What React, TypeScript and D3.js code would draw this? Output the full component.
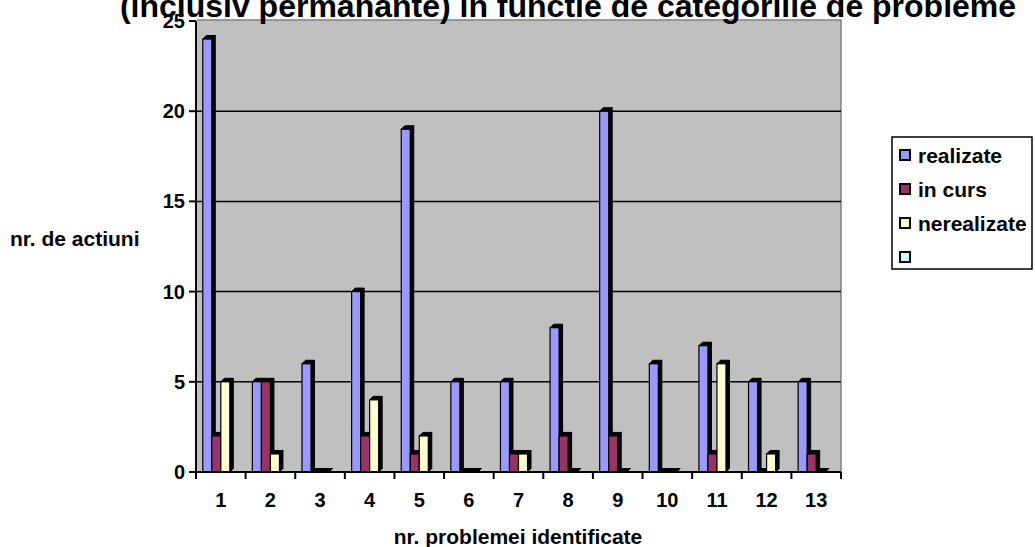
import React from 'react';
import { scaleBand, scaleLinear, range } from 'd3';

const categories = ['1', '2', '3', '4', '5', '6', '7', '8', '9', '10', '11', '12', '13'];
const realizate = [24, 5, 6, 10, 19, 5, 5, 8, 20, 6, 7, 5, 5];
const inCurs = [2, 5, 0, 2, 1, 0, 1, 2, 2, 0, 1, 0, 1];
const nerealizate = [5, 1, 0, 4, 2, 0, 1, 0, 0, 0, 6, 1, 0];
const fourth: (number | null)[] = [null, null, null, null, null, null, null, null, null, null, null, null, null];
const seriesNames = ['realizate', 'in curs', 'nerealizate', ''];
const seriesColors = ['#9999FF', '#993366', '#FFFFCC', '#CCFFFF'];
const yTicks = [0, 5, 10, 15, 20, 25];

const W = 1035;
const H = 547;
const font = '"Liberation Sans", Arial, sans-serif';

const App: React.FC = () => {
  const left = 196;
  const right = 841;
  const top = 21;
  const bottom = 472;
  const depth = 3.5;

  const series = [realizate, inCurs, nerealizate, fourth];

  // scales
  const x = scaleBand<string>().domain(categories).range([left, right]);
  const inner = scaleBand<number>()
    .domain(range(series.length))
    .range([0, x.bandwidth()])
    .paddingOuter(0.75)
    .paddingInner(0);
  const y = scaleLinear().domain([0, 25]).range([bottom, top]);

  const bw = inner.bandwidth();

  return (
    <div style={{ position: 'absolute', left: 0, top: 0 }}>
      <svg width={W} height={H} style={{ display: 'block', fontFamily: font }}>
        <rect width={W} height={H} fill="#fff" />

        {/* plot wall */}
        <rect x={left + 1} y={top - 1} width={right - left - 1} height={bottom - top + 1} fill="#C0C0C0" />
        <path
          d={`M${left + 1},${top - 1}H${right}V${bottom}`}
          fill="none"
          stroke="#808080"
          strokeWidth={1.5}
        />

        {/* gridlines */}
        {yTicks
          .filter((t) => t > 0 && t < 25)
          .map((t) => (
            <line key={t} x1={left} x2={right} y1={y(t)} y2={y(t)} stroke="#000" strokeWidth={1.5} />
          ))}

        {/* bars */}
        {categories.map((c, i) =>
          series.map((s, k) => {
            const v = s[i];
            if (v === null || v === undefined) return null;
            const bx = (x(c) as number) + (inner(k) as number);
            const by = y(v);
            const y0 = y(0);
            return (
              <g key={`${c}-${k}`}>
                <polygon
                  points={`${bx + bw},${by} ${bx + bw + depth},${by - depth} ${bx + bw + depth},${y0 - depth} ${bx + bw},${y0}`}
                  fill="#000"
                  stroke="#000"
                  strokeWidth={1}
                />
                <polygon
                  points={`${bx},${by} ${bx + depth},${by - depth} ${bx + bw + depth},${by - depth} ${bx + bw},${by}`}
                  fill="#000"
                  stroke="#000"
                  strokeWidth={1}
                />
                <rect
                  x={bx}
                  y={by}
                  width={bw}
                  height={y0 - by}
                  fill={seriesColors[k]}
                  stroke="#000"
                  strokeWidth={1.2}
                />
              </g>
            );
          }),
        )}

        {/* y axis */}
        <line x1={left} x2={left} y1={top} y2={bottom} stroke="#000" strokeWidth={2} />
        {yTicks.map((t) => (
          <g key={t}>
            <line x1={left - 7} x2={left} y1={y(t)} y2={y(t)} stroke="#000" strokeWidth={2} />
            <text
              x={left - 11}
              y={y(t)}
              textAnchor="end"
              dominantBaseline="central"
              fontSize={20}
              fontWeight="bold"
            >
              {t}
            </text>
          </g>
        ))}

        {/* x axis */}
        <line x1={left} x2={right} y1={bottom} y2={bottom} stroke="#000" strokeWidth={2} />
        {categories.map((c) => (
          <line
            key={`t${c}`}
            x1={x(c) as number}
            x2={x(c) as number}
            y1={bottom}
            y2={bottom + 7}
            stroke="#000"
            strokeWidth={2}
          />
        ))}
        <line x1={right} x2={right} y1={bottom} y2={bottom + 7} stroke="#000" strokeWidth={2} />
        {categories.map((c) => (
          <text
            key={`l${c}`}
            x={(x(c) as number) + x.bandwidth() / 2}
            y={507}
            textAnchor="middle"
            fontSize={20}
            fontWeight="bold"
          >
            {c}
          </text>
        ))}

        {/* titles */}
        <text x={568} y={17} textAnchor="middle" fontSize={32} fontWeight="bold">
          (inclusiv permanante) in functie de categoriile de probleme
        </text>
        <text x={518} y={544} textAnchor="middle" fontSize={21} fontWeight="bold">
          nr. problemei identificate
        </text>
        <text x={10} y={246} fontSize={21} fontWeight="bold">
          nr. de actiuni
        </text>

        {/* legend */}
        <rect x={892} y={137} width={140} height={132} fill="#fff" stroke="#000" strokeWidth={1.5} />
        {seriesNames.map((n, k) => {
          const cy = 155 + k * 34;
          return (
            <g key={`lg${k}`}>
              <rect x={900} y={cy - 5} width={10} height={10} fill={seriesColors[k]} stroke="#000" strokeWidth={2} />
              <text x={918} y={cy} dominantBaseline="central" fontSize={21} fontWeight="bold">
                {n}
              </text>
            </g>
          );
        })}
      </svg>
    </div>
  );
};

export default App;
